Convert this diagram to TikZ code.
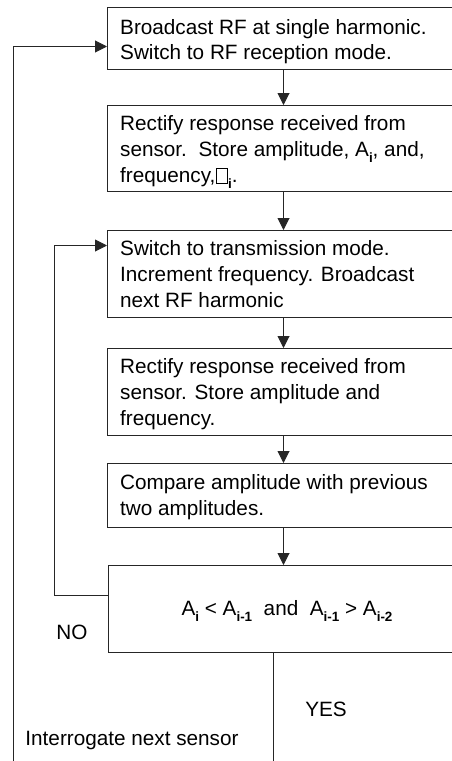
\documentclass[tikz,border=0pt]{standalone}
\usepackage{fontspec}
\setmainfont{Liberation Sans}
\usetikzlibrary{arrows.meta}
\newcommand\subsc[1]{\raisebox{-0.3em}{\fontsize{13.5}{13.5}\selectfont\bfseries #1}}
\newcommand\missingglyph{\hspace{1bp}\raisebox{-0.05em}{\setlength{\fboxsep}{0pt}\setlength{\fboxrule}{0.6pt}\fbox{\rule{0pt}{14bp}\hspace{10bp}}}\hspace{0.5bp}}
\begin{document}
\begin{tikzpicture}[x=1bp,y=-1bp,
  box/.style={draw=black!85, line width=1bp, rectangle, anchor=north west, inner sep=0pt, minimum width=352bp},
  txt/.style={anchor=base west, align=left, inner sep=0pt, font=\fontsize{20.8}{26}\selectfont},
  lbl/.style={anchor=base, inner sep=0pt, font=\fontsize{20.8}{26}\selectfont},
  arr/.style={draw=black!85, line width=1bp, -{Triangle[length=12bp,width=12bp]}},
  ln/.style={draw=black!85, line width=1bp}]
\useasboundingbox (0,0) rectangle (452,761);
\clip (0,0) rectangle (452,761);
% boxes
\node[box, minimum height=62bp] (b1) at (107,7) {};
\node[box, minimum height=86bp] (b2) at (107,105) {};
\node[box, minimum height=87bp] (b3) at (107,230) {};
\node[box, minimum height=87bp] (b4) at (107,348) {};
\node[box, minimum height=64bp] (b5) at (107,463) {};
\node[box, minimum height=87bp, minimum width=350bp] (b6) at (108,565) {};
% texts (anchored at the baseline of the last line)
\node[txt] (t1) at (120,60) {Broadcast RF at single harmonic.\\Switch to RF reception mode.};
\node[txt] (t2) at (120,182) {Rectify response received from\\sensor.\ \ Store amplitude, A\subsc{i}, and,\\frequency,\missingglyph\subsc{i}.};
\node[txt] (t3) at (120,307) {Switch to transmission mode.\\Increment frequency. Broadcast\\next RF harmonic};
\node[txt] (t4) at (120,425) {Rectify response received from\\sensor. Store amplitude and\\frequency.};
\node[txt] (t5) at (120,515) {Compare amplitude with previous\\two amplitudes.};
\node[lbl] (t6) at (287,615) {A\subsc{i} < A\subsc{i-1}\ \ and\ \ A\subsc{i-1} > A\subsc{i-2}};
% labels
\node[lbl] (no) at (72,639) {NO};
\node[lbl] (yes) at (326,716) {YES};
\node[lbl] (next) at (132,745) {Interrogate next sensor};
% connectors
\draw[arr] (b1.south) -- (b2.north);
\draw[arr] (b2.south) -- (b3.north);
\draw[arr] (b3.south) -- (b4.north);
\draw[arr] (b4.south) -- (b5.north);
\draw[arr] (b5.south) -- (b6.north);
\draw[arr] ([yshift=13.5bp]b6.west) -- ++(-54,0) |- ([yshift=28.5bp]b3.west);
\coordinate (outend) at (13,762);
\coordinate (yesend) at (273,762);
\draw[arr] (outend) |- ([yshift=-8bp]b1.west);
\draw[ln] (b6.south -| yesend) -- (yesend);
\end{tikzpicture}
\end{document}
